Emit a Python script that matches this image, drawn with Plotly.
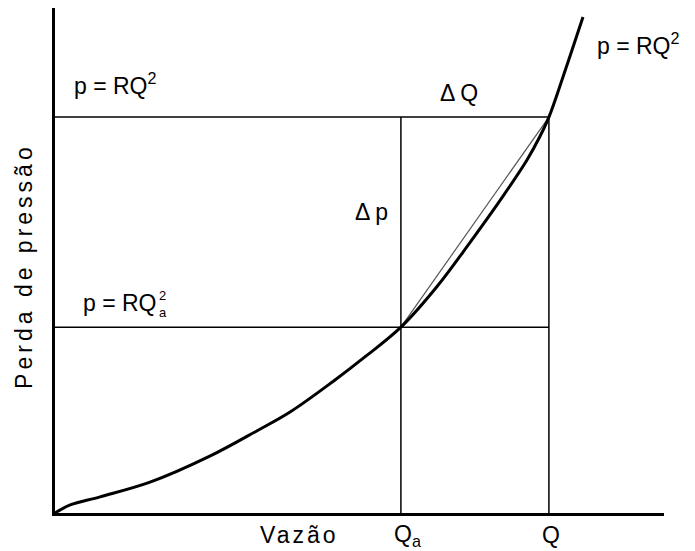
import plotly.graph_objects as go

# Curve p = RQ^2 (normalised axes 0..1)
curve_q = [0.0, 0.025, 0.074, 0.156, 0.255, 0.332, 0.386, 0.456, 0.512, 0.568,
           0.627, 0.681, 0.736, 0.775, 0.796, 0.811, 0.834, 0.867]
curve_p = [0.0, 0.016, 0.032, 0.061, 0.113, 0.163, 0.200, 0.260, 0.312, 0.368,
           0.448, 0.535, 0.628, 0.699, 0.745, 0.784, 0.863, 0.982]

# Operating points
Qa, pa = 0.568, 0.368
Q, pQ = 0.811, 0.784

FONT = "Liberation Sans, Arial, sans-serif"
FS = 23

fig = go.Figure()

thin = dict(color="black", width=1.5)
# horizontal reference lines
fig.add_trace(go.Scatter(x=[0, Q], y=[pQ, pQ], mode="lines", line=thin, hoverinfo="skip"))
fig.add_trace(go.Scatter(x=[0, Q], y=[pa, pa], mode="lines", line=thin, hoverinfo="skip"))
# vertical reference lines
fig.add_trace(go.Scatter(x=[Qa, Qa], y=[0, pQ], mode="lines", line=thin, hoverinfo="skip"))
fig.add_trace(go.Scatter(x=[Q, Q], y=[0, pQ], mode="lines", line=thin, hoverinfo="skip"))
# chord
fig.add_trace(go.Scatter(x=[Qa, Q], y=[pa, pQ], mode="lines",
                         line=dict(color="#555555", width=1.2), hoverinfo="skip"))
# curve
fig.add_trace(go.Scatter(x=curve_q, y=curve_p, mode="lines",
                         line=dict(color="black", width=3, shape="spline", smoothing=1.0),
                         hoverinfo="skip"))

def ann(x, y, text, xanchor="left", size=FS, yanchor="middle", textangle=0):
    fig.add_annotation(x=x, y=y, xref="paper", yref="paper", text=text, showarrow=False,
                       xanchor=xanchor, yanchor=yanchor, textangle=textangle,
                       font=dict(family=FONT, size=size, color="black"))

def spaced(t, px):
    return '<span style="letter-spacing:%dpx">%s</span>' % (px, t)

ann(0.028, 0.850, "p = RQ<sup>2</sup>")
ann(0.887, 0.929, "p = RQ<sup>2</sup>")
ann(0.668, 0.832, spaced("ΔQ", 5), xanchor="center")
ann(0.489, 0.596, spaced("Δp", 5))
ann(0.042, 0.416, "p = RQ")
ann(0.178, 0.413, "2<br>a", size=13, xanchor="center")
ann(0.402, -0.044, spaced("Vazão", 3), xanchor="center")
ann(Qa + 0.010, -0.044, "Q<sub>a</sub>", xanchor="center", size=23)
ann(Q + 0.004, -0.044, "Q", xanchor="center", size=23)
ann(-0.052, 0.49, spaced("Perda de pressão", 4), xanchor="center", textangle=-90)

fig.update_layout(
    width=687, height=543,
    margin=dict(l=47, r=31, t=0, b=38),
    paper_bgcolor="white", plot_bgcolor="white",
    showlegend=False,
    xaxis=dict(range=[0, 1], showgrid=False, zeroline=False, showticklabels=False,
               ticks="", showline=True, linecolor="black", linewidth=3, fixedrange=True),
    yaxis=dict(range=[0, 1], showgrid=False, zeroline=False, showticklabels=False,
               ticks="", showline=True, linecolor="black", linewidth=3, fixedrange=True),
)

fig.write_html("out.html")
